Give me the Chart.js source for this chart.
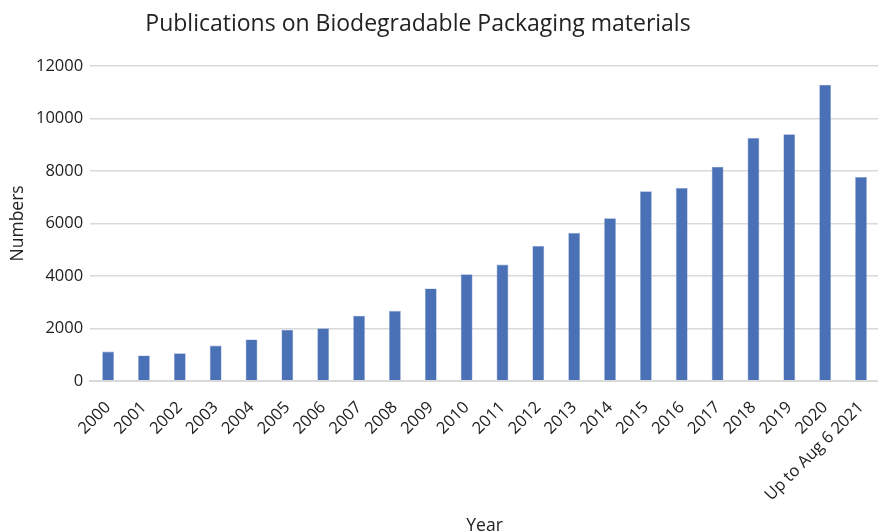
<!DOCTYPE html>
<html>
<head>
<meta charset="utf-8">
<script src="https://cdn.jsdelivr.net/npm/chart.js@4/dist/chart.umd.min.js"></script>
<style>
  body { margin: 0; background: #fff; overflow: hidden; }
  #wrap { position: relative; width: 878px; height: 531px; overflow: hidden; }
  #title {
    position: absolute; top: 6px; left: 0; width: 836px;
    text-align: center; font-family: "Open Sans", sans-serif;
    font-size: 23px; color: #222;
  }
</style>
</head>
<body>
<div id="wrap">
  <div id="title">Publications on Biodegradable Packaging materials</div>
  <canvas id="graph" width="884" height="531"></canvas>
</div>
<script>
// 年（カテゴリ）
const YEARS = ['2000', '2001', '2002', '2003', '2004', '2005', '2006', '2007', '2008', '2009',
  '2010', '2011', '2012', '2013', '2014', '2015', '2016', '2017', '2018', '2019', '2020', 'Up to Aug 6 2021'];

// 論文数
const COUNTS = [1115, 965, 1050, 1345, 1580, 1950, 2000, 2480, 2670, 3520,
  4060, 4430, 5140, 5640, 6200, 7225, 7350, 8160, 9260, 9400, 11290, 7770];

// 縦軸の目盛り
const Y_TICKS = [0, 2000, 4000, 6000, 8000, 10000, 12000];

const FONT = '"Open Sans", sans-serif';
const BAR_COLOR = '#4a70b5';

Chart.defaults.font.family = FONT;
Chart.defaults.color = '#222';

new Chart(document.getElementById('graph'), {
  type: 'bar',
  data: {
    labels: YEARS,
    datasets: [{
      label: 'Numbers',
      data: COUNTS,
      backgroundColor: BAR_COLOR,
      borderColor: '#8ea6d6',
      borderWidth: 0.6,
      barPercentage: 0.33,
      categoryPercentage: 1.0
    }]
  },
  options: {
    responsive: false,
    animation: false,
    layout: { padding: { top: 66, right: 0, left: 8, bottom: -6 } },
    plugins: {
      legend: { display: false },
      tooltip: { enabled: false }
    },
    scales: {
      x: {
        grid: { display: false },
        border: { color: '#d9d9d9', width: 2 },
        ticks: {
          font: { size: 16.5 },
          color: '#222',
          maxRotation: 45,
          minRotation: 45,
          autoSkip: false,
          padding: 9
        },
        title: {
          display: true,
          text: 'Year',
          font: { size: 17.5 },
          color: '#222',
          padding: { top: 2, bottom: 0 }
        }
      },
      y: {
        min: 0,
        max: 12000,
        afterBuildTicks: (axis) => { axis.ticks = Y_TICKS.map(v => ({ value: v })); },
        grid: { color: '#d9d9d9', lineWidth: 1.5, drawTicks: false },
        border: { display: false },
        ticks: {
          font: { size: 16.5 },
          color: '#222',
          padding: 7,
          callback: (v) => String(v)
        },
        title: {
          display: true,
          text: 'Numbers',
          font: { size: 17.5 },
          color: '#222',
          padding: { top: 0, bottom: 0 }
        }
      }
    }
  }
});
</script>
</body>
</html>
